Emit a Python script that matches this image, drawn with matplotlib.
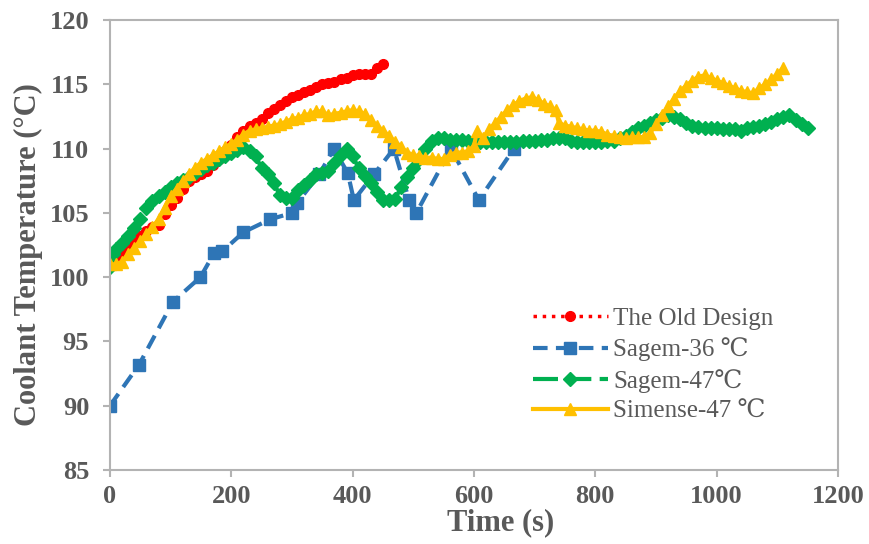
"""Coolant temperature vs. time for the old design and three new variants."""

import matplotlib

matplotlib.use("Agg")
import matplotlib.pyplot as plt

GRAY = "#595959"
AXIS_GRAY = "#B3B3B3"

# --- data ------------------------------------------------------------------
old_t = [0, 10, 20, 30, 40, 50, 60, 70, 80, 90, 100, 110, 120, 130, 140, 150,
         160, 170, 180, 190, 200, 210, 220, 230, 240, 250, 260, 270, 280, 290,
         300, 310, 320, 330, 340, 350, 360, 370, 380, 390, 400, 410, 420, 430,
         440, 450]
old_T = [101.0, 101.5, 102.0, 102.5, 102.8, 103.2, 103.6, 103.9, 104.1, 104.9,
         105.6, 106.2, 106.9, 107.5, 107.8, 108.0, 108.3, 108.7, 109.2, 109.8,
         110.3, 110.9, 111.4, 111.8, 112.0, 112.3, 112.8, 113.1, 113.4, 113.7,
         114.0, 114.2, 114.4, 114.6, 114.8, 115.0, 115.1, 115.2, 115.4, 115.5,
         115.7, 115.8, 115.8, 115.8, 116.3, 116.6]

s36_t = [0, 48, 104, 149, 172, 185, 220, 264, 300, 309, 345, 369, 392, 402,
         435, 468, 493, 505, 562, 608, 666]
s36_T = [90.0, 93.2, 98.1, 100.0, 101.9, 102.0, 103.5, 104.5, 105.0, 105.8,
         108.0, 110.0, 108.1, 106.0, 108.0, 110.0, 106.0, 105.0, 110.0, 106.0,
         110.0]

s47_t = [0, 5, 10, 20, 30, 40, 50, 60, 70, 80, 90, 100, 110, 120, 130, 140,
         150, 160, 170, 180, 190, 200, 210, 220, 230, 240, 250, 260, 270, 280,
         290, 300, 310, 320, 330, 340, 350, 360, 370, 380, 390, 400, 410, 420,
         430, 440, 450, 460, 470, 480, 490, 500, 510, 520, 530, 540, 550, 560,
         570, 580, 590, 600, 610, 620, 630, 640, 650, 660, 670, 680, 690, 700,
         710, 720, 730, 740, 750, 760, 770, 780, 790, 800, 810, 820, 830, 840,
         850, 860, 870, 880, 890, 900, 910, 920, 930, 940, 950, 960, 970, 980,
         990, 1000, 1010, 1020, 1030, 1040, 1050, 1060, 1070, 1080, 1090, 1100,
         1110, 1120, 1130, 1140, 1150]
s47_T = [100.8, 101.8, 102.2, 102.7, 103.2, 103.8, 104.5, 105.4, 105.9, 106.3,
         106.6, 107.0, 107.3, 107.6, 107.8, 108.1, 108.4, 108.7, 108.9, 109.2,
         109.4, 109.7, 109.9, 110.1, 109.8, 109.4, 108.5, 108.0, 107.3, 106.4,
         106.2, 106.2, 106.8, 107.2, 107.6, 108.0, 108.1, 108.3, 108.9, 109.5,
         110.0, 109.4, 108.5, 107.9, 107.3, 106.6, 106.0, 106.0, 106.1, 107.0,
         107.8, 108.5, 109.2, 110.0, 110.6, 110.8, 110.8, 110.7, 110.7, 110.7,
         110.6, 110.5, 110.5, 110.5, 110.5, 110.5, 110.5, 110.5, 110.5, 110.6,
         110.6, 110.6, 110.7, 110.7, 110.8, 110.8, 110.8, 110.6, 110.5, 110.5,
         110.5, 110.5, 110.5, 110.6, 110.6, 110.8, 111.0, 111.3, 111.6, 111.8,
         112.0, 112.2, 112.4, 112.6, 112.5, 112.3, 112.0, 111.8, 111.7, 111.6,
         111.6, 111.6, 111.5, 111.5, 111.5, 111.4, 111.6, 111.7, 111.8, 111.9,
         112.1, 112.3, 112.5, 112.6, 112.2, 111.9, 111.6]

sim_t = [0, 10, 20, 30, 40, 50, 60, 70, 80, 90, 100, 110, 120, 130, 140, 150,
         160, 170, 180, 190, 200, 210, 220, 230, 240, 250, 260, 270, 280, 290,
         300, 310, 320, 330, 340, 350, 360, 370, 380, 390, 400, 410, 420, 430,
         440, 450, 460, 470, 480, 490, 500, 510, 520, 530, 540, 550, 560, 570,
         580, 590, 600, 605, 615, 625, 635, 645, 655, 665, 675, 685, 695, 705,
         715, 725, 735, 740, 750, 760, 770, 780, 790, 800, 810, 820, 830, 840,
         850, 860, 870, 880, 890, 900, 910, 920, 930, 940, 950, 960, 970, 980,
         990, 1000, 1010, 1020, 1030, 1040, 1050, 1060, 1070, 1080, 1090, 1100,
         1110]
sim_T = [101.0, 101.0, 101.2, 101.8, 102.3, 102.8, 103.4, 103.9, 104.5, 105.4,
         106.3, 106.9, 107.5, 108.0, 108.5, 108.9, 109.2, 109.5, 109.8, 110.1,
         110.4, 110.7, 111.1, 111.4, 111.5, 111.6, 111.7, 111.8, 111.9, 112.1,
         112.3, 112.4, 112.6, 112.7, 112.9, 112.9, 112.6, 112.7, 112.8, 112.9,
         113.0, 112.9, 112.7, 112.2, 111.8, 111.4, 111.0, 110.5, 110.1, 109.7,
         109.5, 109.4, 109.3, 109.3, 109.2, 109.2, 109.5, 109.7, 109.7, 109.8,
         110.2, 111.4, 110.8, 111.5, 112.0, 112.5, 113.0, 113.4, 113.7, 113.9,
         114.0, 113.8, 113.5, 113.3, 113.0, 112.0, 111.8, 111.7, 111.6, 111.5,
         111.4, 111.4, 111.3, 111.1, 111.0, 110.9, 110.8, 110.9, 110.9, 110.9,
         111.2, 111.9, 112.6, 113.3, 113.9, 114.5, 114.9, 115.3, 115.6, 115.7,
         115.5, 115.3, 115.1, 114.9, 114.7, 114.5, 114.4, 114.3, 114.7, 115.0,
         115.4, 115.8, 116.3]

x_ticks = [0, 200, 400, 600, 800, 1000, 1200]
y_ticks = [85, 90, 95, 100, 105, 110, 115, 120]


def main() -> None:
    plt.rcParams["font.family"] = ["Liberation Serif", "DejaVu Serif"]

    fig = plt.figure(figsize=(8.7, 5.44), dpi=100)
    ax = fig.add_axes([0.1264, 0.136, 0.8368, 0.827])

    ax.plot(old_t, old_T, color="#FF0000", linestyle=":", linewidth=2.5,
            marker="o", markersize=7, label="The Old Design")
    ax.plot(s36_t, s36_T, color="#2E75B6", linestyle=(0, (3.5, 2)),
            linewidth=3, marker="s", markersize=8, label="Sagem-36 \u2103")
    ax.plot(s47_t, s47_T, color="#00B050", linestyle=(0, (6, 2)),
            linewidth=3, marker="D", markersize=7, label="Sagem-47\u2103")
    ax.plot(sim_t, sim_T, color="#FFC000", linestyle="-", linewidth=3,
            marker="^", markersize=9, label="Simense-47 \u2103")

    ax.set_xlim(0, 1200)
    ax.set_ylim(85, 120)
    ax.set_xticks(x_ticks)
    ax.set_yticks(y_ticks)

    for spine in ax.spines.values():
        spine.set_color(AXIS_GRAY)
        spine.set_linewidth(1.5)

    ax.tick_params(axis="both", colors=AXIS_GRAY, labelcolor=GRAY,
                   labelsize=19, width=1.5, length=5)
    ax.tick_params(axis="x", pad=6)
    ax.tick_params(axis="y", pad=10)
    for lbl in ax.get_xticklabels() + ax.get_yticklabels():
        lbl.set_fontweight("bold")

    ax.set_xlabel("Time (s)", fontsize=22, fontweight="bold", color=GRAY)
    ax.set_ylabel("Coolant Temperature (\u00b0C)", fontsize=22,
                  fontweight="bold", color=GRAY)
    ax.xaxis.set_label_coords(0.536, -0.085)
    ax.yaxis.set_label_coords(-0.092, 0.478)

    leg = ax.legend(loc="lower left", bbox_to_anchor=(0.557, 0.066),
                    frameon=False, fontsize=18, handlelength=3.0,
                    labelspacing=0.3, handletextpad=0.2, borderpad=0.2)
    for txt in leg.get_texts():
        txt.set_color(GRAY)

    fig.savefig("out.png", dpi=100)
    plt.close(fig)


if __name__ == "__main__":
    main()
